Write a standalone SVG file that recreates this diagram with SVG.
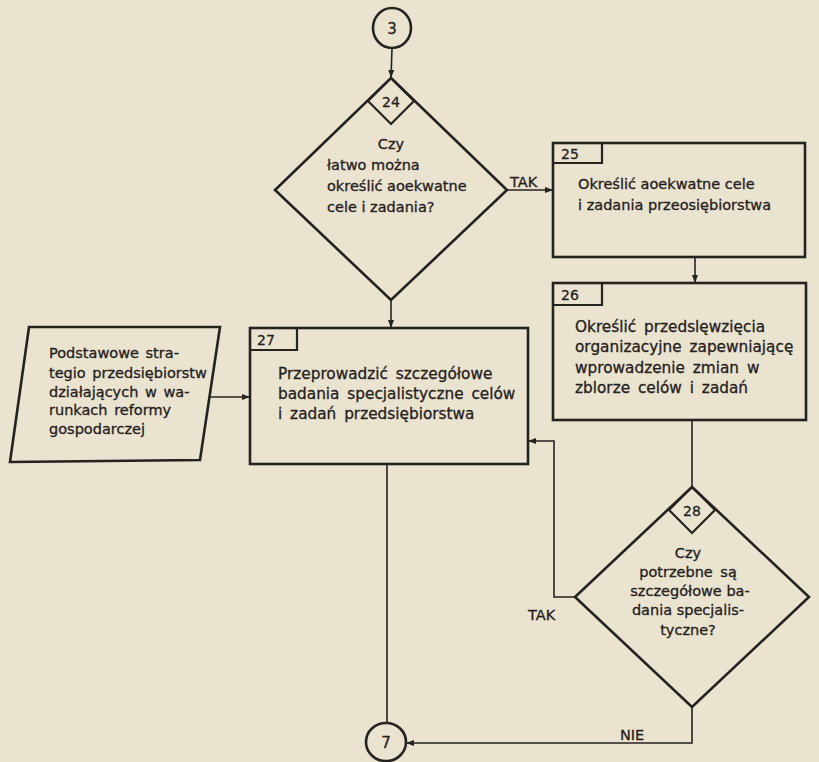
<svg xmlns="http://www.w3.org/2000/svg" width="819" height="762" viewBox="0 0 819 762">
  <defs>
    <marker id="arr" markerUnits="userSpaceOnUse" markerWidth="9" markerHeight="7" refX="8" refY="3.5" orient="auto">
      <path d="M0,0.5 L8,3.5 L0,6.5 Z" fill="#26221e"/>
    </marker>
  </defs>
  <style>
    .shape { fill: none; stroke: #26221e; stroke-width: 2.6; stroke-linejoin: miter; }
    .tab { fill: none; stroke: #26221e; stroke-width: 2.2; }
    .conn { fill: none; stroke: #26221e; stroke-width: 1.6; }
    text { font-family: "DejaVu Sans", "Liberation Sans", sans-serif; fill: #26201c; stroke: #26201c; stroke-width: 0.3; font-size: 14.5px; }
    .big { font-size: 15.3px; word-spacing: 3px; }
    .wide { word-spacing: 2px; }
    .num { font-size: 14px; }
    .mid { text-anchor: middle; }
  </style>

  <!-- paper -->
  <rect width="819" height="762" fill="#e9e3d0"/>

  <!-- connectors -->
  <g id="connectors">
    <line class="conn" x1="392" y1="48" x2="391" y2="78" marker-end="url(#arr)"/>
    <line class="conn" x1="391" y1="300" x2="391" y2="328" marker-end="url(#arr)"/>
    <line class="conn" x1="507" y1="190" x2="553" y2="190" marker-end="url(#arr)"/>
    <line class="conn" x1="695" y1="257" x2="695" y2="283" marker-end="url(#arr)"/>
    <line class="conn" x1="692" y1="420" x2="692" y2="487"/>
    <line class="conn" x1="210" y1="397" x2="250" y2="397" marker-end="url(#arr)"/>
    <polyline class="conn" points="575,597 554,597 554,441 528,441" marker-end="url(#arr)"/>
    <polyline class="conn" points="692,707 692,743 406,743" marker-end="url(#arr)"/>
    <line class="conn" x1="387" y1="464" x2="387" y2="723"/>
    <text x="510" y="187">TAK</text>
    <text x="528" y="620">TAK</text>
    <text x="620" y="740">NIE</text>
  </g>

  <!-- connector 3 -->
  <g id="n3">
    <ellipse class="shape" cx="392" cy="28" rx="19" ry="20"/>
    <text class="mid" x="392" y="34" style="font-size:15px">3</text>
  </g>

  <!-- decision 24 -->
  <g id="n24">
    <polygon class="shape" points="391,78 507,190 391,300 275,190"/>
    <polygon class="tab" points="391,78 414,101 391,124 368,101"/>
    <text class="mid num" x="391" y="107">24</text>
    <text class="mid" x="391" y="149">Czy</text>
    <text x="327" y="170">łatwo można</text>
    <text x="327" y="191">określić aoekwatne</text>
    <text x="327" y="212">cele i zadania?</text>
  </g>

  <!-- process 25 -->
  <g id="n25">
    <rect class="shape" x="553" y="143" width="252" height="114"/>
    <polyline class="tab" points="553,163 602,163 602,143"/>
    <text class="num" x="561" y="159">25</text>
    <text x="578" y="189">Określić aoekwatne cele</text>
    <text x="578" y="210">i zadania przeosiębiorstwa</text>
  </g>

  <!-- process 26 -->
  <g id="n26">
    <rect class="shape" x="553" y="283" width="253" height="137"/>
    <polyline class="tab" points="553,305 602,305 602,283"/>
    <text class="num" x="561" y="300">26</text>
    <text class="big" x="575" y="332">Określić przedslęwzięcia</text>
    <text class="big" x="575" y="352">organizacyjne zapewniającę</text>
    <text class="big" x="575" y="373">wprowadzenie zmian w</text>
    <text class="big" x="575" y="393">zblorze celów i zadań</text>
  </g>

  <!-- input data -->
  <g id="input">
    <polygon class="shape" points="29,327 220,327 200,460 10,462"/>
    <text class="wide" x="49" y="358">Podstawowe stra-</text>
    <text class="wide" x="49" y="378">tegio przedsiębiorstw</text>
    <text class="wide" x="49" y="397">działających w wa-</text>
    <text class="wide" x="49" y="415">runkach reformy</text>
    <text class="wide" x="49" y="434">gospodarczej</text>
  </g>

  <!-- process 27 -->
  <g id="n27">
    <rect class="shape" x="250" y="328" width="278" height="136"/>
    <polyline class="tab" points="250,350 297,350 297,328"/>
    <text class="num" x="257" y="345">27</text>
    <text class="big" x="278" y="379">Przeprowadzić szczegółowe</text>
    <text class="big" x="278" y="399">badania specjalistyczne celów</text>
    <text class="big" x="278" y="419">i zadań przedsiębiorstwa</text>
  </g>

  <!-- decision 28 -->
  <g id="n28">
    <polygon class="shape" points="692,487 809,597 692,707 575,597"/>
    <polygon class="tab" points="692,487 715,510 692,533 669,510"/>
    <text class="mid num" x="692" y="516">28</text>
    <text class="mid" x="688" y="558">Czy</text>
    <text class="mid" x="688" y="577" style="word-spacing:3px">potrzebne są</text>
    <text class="mid" x="690" y="596">szczegółowe ba-</text>
    <text class="mid" x="688" y="615">dania specjalis-</text>
    <text class="mid" x="688" y="635">tyczne?</text>
  </g>

  <!-- connector 7 -->
  <g id="n7">
    <ellipse class="shape" cx="386" cy="742" rx="20" ry="19"/>
    <text class="mid" x="386" y="748" style="font-size:15px">7</text>
  </g>
</svg>
